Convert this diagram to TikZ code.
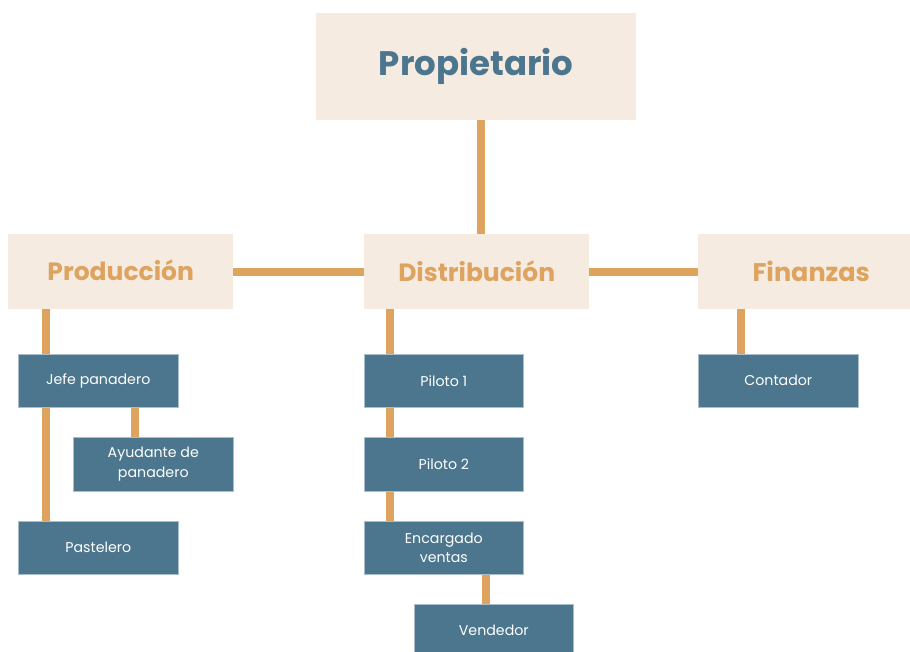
\documentclass[tikz,border=0pt]{standalone}
\usepackage{fontspec}
\setmainfont{Poppins}
\definecolor{beige}{HTML}{F5EBE0}
\definecolor{ora}{HTML}{DDA35F}
\definecolor{blu}{HTML}{4B768E}
\definecolor{bluedge}{HTML}{A9BDCA}
\begin{document}
\begin{tikzpicture}[x=1pt,y=-1pt,
  head/.style={fill=beige,draw=none,inner sep=0,anchor=north west},
  sub/.style={fill=blu,draw=bluedge,line width=0.6pt,inner sep=0,anchor=north west,
    text=white,align=center,font=\fontsize{14.2}{19.5}\selectfont},
  link/.style={draw=ora,line width=8.5pt}]
\useasboundingbox (0,0) rectangle (910,652);
\begin{scope}
\clip (0,0) rectangle (910,652);
% headers
\node[head,minimum width=320,minimum height=107,text=blu,font=\fontsize{34}{40}\selectfont\bfseries] (prop) at (316,13) {\raisebox{2pt}{Propietario}};
\node[head,minimum width=225,minimum height=75,text=ora,font=\fontsize{25}{30}\selectfont\bfseries] (prod) at (8,234) {\raisebox{3pt}{Producción}};
\node[head,minimum width=225,minimum height=75,text=ora,font=\fontsize{25}{30}\selectfont\bfseries] (dist) at (364,234) {\raisebox{1.5pt}{Distribución}};
\node[head,minimum width=212,minimum height=75,text=ora,font=\fontsize{25.5}{30}\selectfont\bfseries] (fin) at (698,234) {\hspace*{14pt}\raisebox{1pt}{Finanzas}};
% sub boxes
\node[sub,minimum width=160,minimum height=53] (jefe) at (18,354) {Jefe panadero};
\node[sub,minimum width=160,minimum height=54] (ayud) at (73,437) {Ayudante de\\panadero};
\node[sub,minimum width=160,minimum height=53] (past) at (18,521) {Pastelero};
\node[sub,minimum width=159,minimum height=53] (pil1) at (364,354) {Piloto 1};
\node[sub,minimum width=159,minimum height=54] (pil2) at (364,437) {Piloto 2};
\node[sub,minimum width=159,minimum height=53] (enc) at (364,521) {Encargado\\ventas};
\node[sub,minimum width=159,minimum height=53] (vend) at (414,604) {Vendedor};
\node[sub,minimum width=160,minimum height=53] (cont) at (698,354) {Contador};
% connectors
\draw[link] ([xshift=165]prop.south west) -- ([xshift=165]prop.south west |- dist.north);
\draw[link] ([yshift=-38]prod.north east) -- ([yshift=-38]dist.north west);
\draw[link] ([yshift=-38]dist.north east) -- ([yshift=-38]fin.north west);
\draw[link] ([xshift=28]jefe.north west |- prod.south) -- ([xshift=28]jefe.north west);
\draw[link] ([xshift=28]jefe.south west) -- ([xshift=28]past.north west);
\draw[link] ([xshift=117]jefe.south west) -- ([xshift=117]jefe.south west |- ayud.north);
\draw[link] ([xshift=26]dist.south west) -- ([xshift=26]pil1.north west);
\draw[link] ([xshift=26]pil1.south west) -- ([xshift=26]pil2.north west);
\draw[link] ([xshift=26]pil2.south west) -- ([xshift=26]enc.north west);
\draw[link] ([xshift=122]enc.south west) -- ([xshift=122]enc.south west |- vend.north);
\draw[link] ([xshift=43]fin.south west) -- ([xshift=43]cont.north west);
\end{scope}
\end{tikzpicture}
\end{document}
